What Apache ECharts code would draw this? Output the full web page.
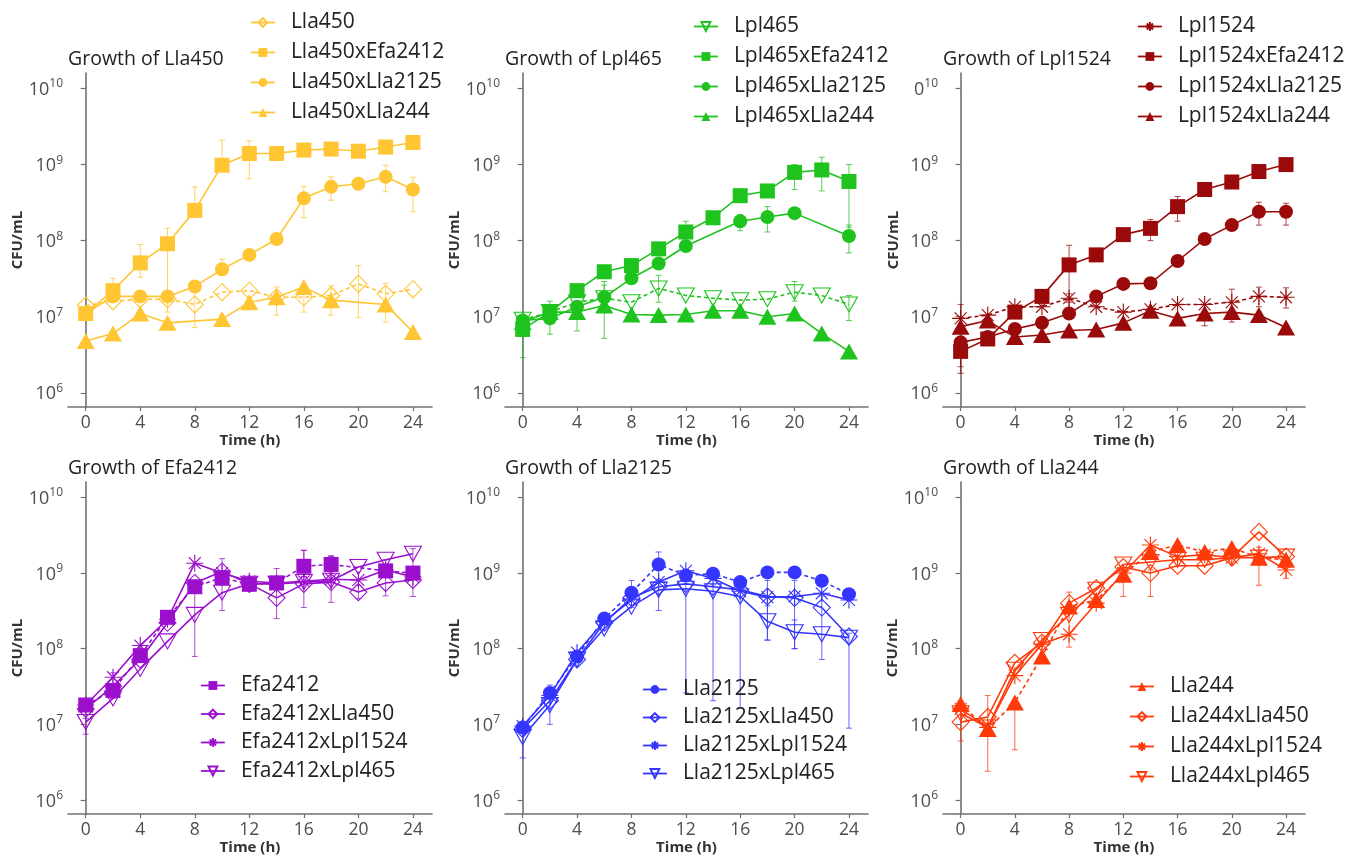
<!DOCTYPE html>
<html><head><meta charset="utf-8">
<script src="https://cdn.jsdelivr.net/npm/echarts@6/dist/echarts.min.js"></script>
<style>html,body{margin:0;padding:0;background:#fff}#c{width:1347px;height:856px}</style>
</head><body><div id="c"></div>
<script>
const hours = [0,2,4,6,8,10,12,14,16,18,20,22,24];
const xTicks = [0,4,8,12,16,20,24];
const yTicks = [1e6,1e7,1e8,1e9,1e10];
const yTickExp = ['6','7','8','9','10'];
const titles = ['Growth of Lla450','Growth of Lpl465','Growth of Lpl1524','Growth of Efa2412','Growth of Lla2125','Growth of Lla244'];

// ---- Growth of Lla450 (CFU/mL) ----
const Lla450         = [1.4e7,1.6e7,1.7e7,1.7e7,1.45e7,2.1e7,2.2e7,1.8e7,1.8e7,1.9e7,2.7e7,2.0e7,2.3e7];
const Lla450xEfa2412 = [1.1e7,2.2e7,5.1e7,9.1e7,2.5e8,9.8e8,1.4e9,1.4e9,1.55e9,1.6e9,1.5e9,1.7e9,1.95e9];
const Lla450xLla2125 = [1.1e7,1.85e7,1.85e7,1.85e7,2.5e7,4.2e7,6.5e7,1.05e8,3.6e8,5.1e8,5.6e8,6.9e8,4.7e8];
const Lla450xLla244  = [4.8e6,6.0e6,1.1e7,8.3e6,null,9.3e6,1.55e7,1.8e7,2.45e7,1.65e7,null,1.45e7,6.3e6];
// ---- Growth of Lpl465 ----
const Lpl465         = [9.1e6,1.15e7,1.55e7,1.75e7,1.55e7,2.35e7,1.9e7,1.75e7,1.65e7,1.7e7,2.1e7,1.9e7,1.45e7];
const Lpl465xEfa2412 = [6.8e6,1.15e7,2.2e7,3.9e7,4.7e7,7.8e7,1.3e8,2.0e8,3.9e8,4.5e8,7.9e8,8.5e8,6.0e8];
const Lpl465xLla2125 = [8.9e6,9.5e6,1.35e7,1.8e7,3.2e7,5.0e7,8.5e7,null,1.8e8,2.05e8,2.3e8,null,1.15e8];
const Lpl465xLla244  = [8.5e6,1.15e7,1.15e7,1.4e7,1.07e7,1.05e7,1.07e7,1.2e7,1.2e7,1.0e7,1.1e7,6.0e6,3.5e6];
// ---- Growth of Lpl1524 ----
const Lpl1524         = [9.5e6,1.05e7,1.35e7,1.35e7,1.75e7,1.35e7,1.15e7,1.25e7,1.45e7,1.45e7,1.55e7,1.85e7,1.8e7];
const Lpl1524xEfa2412 = [3.5e6,5.1e6,1.15e7,1.85e7,4.8e7,6.5e7,1.2e8,1.45e8,2.8e8,4.7e8,5.9e8,8.1e8,1.0e9];
const Lpl1524xLla2125 = [4.6e6,5.4e6,6.9e6,8.3e6,1.1e7,1.85e7,2.7e7,2.75e7,5.4e7,1.05e8,1.6e8,2.4e8,2.4e8];
const Lpl1524xLla244  = [7.4e6,8.9e6,5.4e6,5.75e6,6.6e6,6.8e6,8.3e6,1.2e7,9.5e6,1.1e7,1.15e7,1.05e7,7.2e6];
// ---- Growth of Efa2412 ----
const Efa2412         = [1.8e7,2.8e7,8.1e7,2.6e8,6.6e8,8.7e8,7.1e8,7.4e8,1.23e9,1.3e9,null,1.07e9,1.0e9];
const Efa2412xLla450  = [1.6e7,3.2e7,7.2e7,2.2e8,7.4e8,1.05e9,7.2e8,4.7e8,7.2e8,7.6e8,5.6e8,7.4e8,8.1e8];
const Efa2412xLpl1524 = [1.8e7,4.2e7,1.1e8,2.45e8,1.35e9,1.0e9,7.8e8,7.4e8,7.8e8,8.3e8,8.1e8,1.1e9,8.9e8];
const Efa2412xLpl465  = [1.07e7,2.2e7,5.4e7,1.25e8,2.8e8,5.5e8,7.2e8,7.2e8,7.6e8,7.9e8,1.2e9,1.5e9,1.8e9];
// ---- Growth of Lla2125 ----
const Lla2125         = [9.1e6,2.6e7,7.9e7,2.5e8,5.5e8,1.3e9,9.3e8,9.8e8,7.6e8,1.02e9,1.02e9,7.9e8,5.25e8];
const Lla2125xLla450  = [8.7e6,2.05e7,7.2e7,2.2e8,4.7e8,6.6e8,7.2e8,6.6e8,6.0e8,4.9e8,4.7e8,3.5e8,1.45e8];
const Lla2125xLpl1524 = [9.5e6,2.4e7,8.9e7,2.3e8,4.4e8,7.6e8,1.07e9,8.5e8,5.75e8,4.8e8,4.9e8,5.4e8,4.4e8];
const Lla2125xLpl465  = [6.8e6,1.8e7,7.2e7,1.85e8,3.6e8,6.0e8,6.2e8,5.75e8,4.9e8,2.3e8,1.65e8,1.55e8,1.4e8];
// ---- Growth of Lla244 ----
const Lla244         = [1.85e7,8.7e6,1.95e7,7.9e7,3.6e8,4.4e8,9.5e8,1.9e9,2.35e9,1.9e9,2.15e9,1.6e9,1.5e9];
const Lla244xLla450  = [1.07e7,1.25e7,6.5e7,1.2e8,4.0e8,6.3e8,1.2e9,1.0e9,1.25e9,1.25e9,1.6e9,3.5e9,1.65e9];
const Lla244xLpl1524 = [1.6e7,9.1e6,4.4e7,1.15e8,1.55e8,4.0e8,1.0e9,2.35e9,1.65e9,1.75e9,1.6e9,1.8e9,1.1e9];
const Lla244xLpl465  = [1.4e7,9.1e6,5.25e7,1.3e8,2.8e8,6.0e8,1.3e9,1.4e9,1.5e9,1.5e9,1.6e9,1.6e9,1.65e9];

// ---- error bars [time, low, high] ----
const errLla450         = [[8,7.2e6,2.2e7],[16,1.15e7,2.6e7],[20,9.8e6,4.7e7],[22,8.5e6,2.75e7]];
const errLla450xEfa2412 = [[2,1.6e7,3.2e7],[4,3.3e7,8.9e7],[6,1.15e7,1.45e8],[8,2.5e8,5.1e8],[10,9.8e8,2.1e9],[12,6.5e8,2.05e9]];
const errLla450xLla2125 = [[10,3.5e7,5.7e7],[16,2.0e8,5.2e8],[18,3.4e8,6.9e8],[22,4.4e8,9.8e8],[24,2.4e8,6.8e8]];
const errLla450xLla244  = [[14,1.05e7,2.45e7],[18,1.05e7,2.55e7]];
const errLpl465         = [[6,1.2e7,2.6e7],[10,1.55e7,3.5e7],[20,1.6e7,2.9e7],[24,8.9e6,1.9e7]];
const errLpl465xEfa2412 = [[0,2.9e6,1.0e7],[12,1.0e8,1.8e8],[20,4.7e8,1.0e9],[22,4.5e8,1.25e9],[24,1.5e8,1.0e9]];
const errLpl465xLla2125 = [[2,5.9e6,1.6e7],[16,1.35e8,2.2e8],[18,1.3e8,2.8e8],[24,6.9e7,1.6e8]];
const errLpl465xLla244  = [[4,6.5e6,1.6e7],[6,5.2e6,2.9e7]];
const errLpl1524         = [[0,9.5e6,1.45e7],[8,1.2e7,2.0e7],[20,1.1e7,2.3e7],[22,1.35e7,2.45e7],[24,1.3e7,2.4e7]];
const errLpl1524xEfa2412 = [[0,1.8e6,4.6e6],[8,1.55e7,8.7e7],[14,1.0e8,1.9e8],[16,1.8e8,3.8e8]];
const errLpl1524xLla2125 = [[0,2.2e6,4.6e6],[22,1.6e8,3.2e8],[24,1.6e8,3.1e8]];
const errLpl1524xLla244  = [[18,7.6e6,1.1e7],[20,8.5e6,1.15e7]];
const errEfa2412         = [[16,9.0e8,2.0e9],[18,1.0e9,1.7e9]];
const errEfa2412xLla450  = [[10,3.2e8,1.55e9],[14,2.5e8,1.15e9],[18,4.1e8,1.65e9],[20,4.6e8,6.9e8]];
const errEfa2412xLpl1524 = [[2,2.2e7,4.8e7],[22,5.0e8,1.5e9]];
const errEfa2412xLpl465  = [[0,7.4e6,1.2e7],[8,7.9e7,6.0e8],[16,3.5e8,2.0e9],[24,4.9e8,2.1e9]];
const errLla2125         = [[2,1.0e7,3.3e7],[8,3.5e8,8.0e8],[10,3.2e8,1.9e9]];
const errLla2125xLla450  = [[22,7.2e7,5.0e8]];
const errLla2125xLpl1524 = [[18,1.3e8,8.0e8],[20,1.0e8,8.0e8]];
const errLla2125xLpl465  = [[0,3.6e6,1.0e7],[12,2.6e7,8.0e8],[14,2.05e7,7.0e8],[16,1.65e7,6.0e8],[18,1.3e8,3.7e8],[20,1.0e8,2.4e8],[24,8.9e6,1.6e8]];
const errLla244          = [[2,2.4e6,2.4e7],[4,4.6e6,2.0e7]];
const errLla244xLla450   = [[0,6.0e6,1.5e7],[14,4.9e8,1.1e9]];
const errLla244xLpl1524  = [[8,1.05e8,5.6e8],[24,8.5e8,1.4e9]];
const errLla244xLpl465   = [[12,4.9e8,1.0e9],[22,6.9e8,2.2e9]];

// ---- styling / layout ----
const FONT = 'Open Sans';
const colors = ['#FFC533','#1EC31E','#9B0A0A','#9A10CC','#3535FF','#FF3A0A'];
const SYM = {
  sq:  {symbol:'rect', size:15, open:false},
  ci:  {symbol:'circle', size:14, open:false},
  tr:  {symbol:'triangle', size:[18,16], open:false},
  di:  {symbol:'diamond', size:17, open:true},
  dt:  {symbol:'path://M0,0L20,0L10,17Z', size:[17,15], open:true},
  as:  {symbol:'path://M10,0L10,20M0,10L20,10M3,3L17,17M3,17L17,3', size:17, open:true}
};
const panels = [
  {s:[['Lla450',Lla450,'di',errLla450],['Lla450xEfa2412',Lla450xEfa2412,'sq',errLla450xEfa2412],['Lla450xLla2125',Lla450xLla2125,'ci',errLla450xLla2125],['Lla450xLla244',Lla450xLla244,'tr',errLla450xLla244]]},
  {s:[['Lpl465',Lpl465,'dt',errLpl465],['Lpl465xEfa2412',Lpl465xEfa2412,'sq',errLpl465xEfa2412],['Lpl465xLla2125',Lpl465xLla2125,'ci',errLpl465xLla2125],['Lpl465xLla244',Lpl465xLla244,'tr',errLpl465xLla244]]},
  {s:[['Lpl1524',Lpl1524,'as',errLpl1524],['Lpl1524xEfa2412',Lpl1524xEfa2412,'sq',errLpl1524xEfa2412],['Lpl1524xLla2125',Lpl1524xLla2125,'ci',errLpl1524xLla2125],['Lpl1524xLla244',Lpl1524xLla244,'tr',errLpl1524xLla244]]},
  {s:[['Efa2412',Efa2412,'sq',errEfa2412],['Efa2412xLla450',Efa2412xLla450,'di',errEfa2412xLla450],['Efa2412xLpl1524',Efa2412xLpl1524,'as',errEfa2412xLpl1524],['Efa2412xLpl465',Efa2412xLpl465,'dt',errEfa2412xLpl465]]},
  {s:[['Lla2125',Lla2125,'ci',errLla2125],['Lla2125xLla450',Lla2125xLla450,'di',errLla2125xLla450],['Lla2125xLpl1524',Lla2125xLpl1524,'as',errLla2125xLpl1524],['Lla2125xLpl465',Lla2125xLpl465,'dt',errLla2125xLpl465]]},
  {s:[['Lla244',Lla244,'tr',errLla244],['Lla244xLla450',Lla244xLla450,'di',errLla244xLla450],['Lla244xLpl1524',Lla244xLpl1524,'as',errLla244xLpl1524],['Lla244xLpl465',Lla244xLpl465,'dt',errLla244xLpl465]]}
];
const gridLeft = [68,505,943,68,505,943];
const gridWidth = [364,363,362,364,363,362];
const gridTop = [73,73,73,482,482,482];
const gridHeight = [334,334,334,335,335,335];
const titleTop = [49,49,49,458,458,458];
const legendPos = [[250,12,9],[693,16,9],[1137,16,9],[200,675,7.5],[642,679,7],[1129,676,9]];

const option = {animation:false, backgroundColor:'#fff', title:[], grid:[], xAxis:[], yAxis:[], legend:[], series:[]};

panels.forEach((p,i)=>{
  const col = colors[i];
  option.title.push({text:titles[i], left:gridLeft[i], top:titleTop[i], padding:0,
    textStyle:{fontFamily:FONT, fontSize:19.5, fontWeight:'normal', color:'#222'}});
  option.grid.push({left:gridLeft[i], top:gridTop[i], width:gridWidth[i], height:gridHeight[i], containLabel:false});
  option.xAxis.push({type:'value', gridIndex:i, min:-1.3, max:25.4,
    name:'Time (h)', nameLocation:'middle', nameGap:24,
    nameTextStyle:{fontFamily:FONT, fontSize:15, fontWeight:'bold', color:'#333'},
    axisLine:{show:true, onZero:false, lineStyle:{color:'#707070', width:1.6}},
    axisTick:{show:true, length:4, customValues:xTicks, lineStyle:{color:'#707070', width:1.2}},
    axisLabel:{customValues:xTicks, fontFamily:FONT, fontSize:17.5, margin:7, color:'#4d4d4d'},
    splitLine:{show:false}});
  option.yAxis.push({type:'log', logBase:10, gridIndex:i, min:6.5e5, max:1.6e10,
    name:'CFU/mL', nameLocation:'middle', nameGap:42, nameRotate:90,
    nameTextStyle:{fontFamily:FONT, fontSize:15, fontWeight:'bold', color:'#333'},
    axisLine:{show:true, lineStyle:{color:'#707070', width:1.6}},
    axisTick:{show:true, length:5, customValues:yTicks, lineStyle:{color:'#707070', width:1.2}},
    axisLabel:{customValues:yTicks, margin:5, fontFamily:FONT, fontSize:18, color:'#4d4d4d',
      formatter:(v)=>{
        let k = yTicks.findIndex(t=>Math.abs(Math.log10(t)-Math.log10(v))<1e-6);
        if(k<0) return '';
        const base = (i===2 && k===4) ? '0' : '10';
        return '{b|'+base+'}{s|'+yTickExp[k]+'}';
      },
      rich:{b:{fontFamily:FONT, fontSize:18, lineHeight:21, verticalAlign:'bottom', color:'#4d4d4d'},
            s:{fontFamily:FONT, fontSize:12, lineHeight:12, verticalAlign:'top', color:'#4d4d4d'}}},
    splitLine:{show:false}});
  const lp = legendPos[i];
  option.legend.push({orient:'vertical', left:lp[0], top:lp[1], padding:0, itemGap:lp[2],
    itemWidth:24, itemHeight:11, selectedMode:false,
    data:p.s.map(s=>s[0]),
    lineStyle:{type:'solid', width:1.8},
    textStyle:{fontFamily:FONT, fontSize:21, lineHeight:21, color:'#222', padding:[0,0,0,11]}});
  const errData = [];
  p.s.forEach(s=>s[3].forEach(e=>errData.push(e)));
  option.series.push({type:'custom', xAxisIndex:i, yAxisIndex:i, z:1, silent:true,
    encode:{x:0, y:[1,2]}, data:errData,
    renderItem:(params, api)=>{
      const x = api.value(0);
      const a = api.coord([x, api.value(1)]);
      const b = api.coord([x, api.value(2)]);
      const w = 3;
      const st = {stroke:col, lineWidth:1, opacity:0.75};
      return {type:'group', children:[
        {type:'line', shape:{x1:a[0],y1:a[1],x2:b[0],y2:b[1]}, style:st},
        {type:'line', shape:{x1:a[0]-w,y1:a[1],x2:a[0]+w,y2:a[1]}, style:st},
        {type:'line', shape:{x1:b[0]-w,y1:b[1],x2:b[0]+w,y2:b[1]}, style:st}
      ]};
    }});
  p.s.forEach((s,j)=>{
    const sym = SYM[s[2]];
    option.series.push({type:'line', name:s[0], xAxisIndex:i, yAxisIndex:i, z:2+j,
      data:hours.map((t,k)=>[t, s[1][k]]),
      connectNulls:true,
      symbol:sym.symbol, symbolSize:sym.size, showSymbol:true, showAllSymbol:true,
      itemStyle: sym.open ? {color:'rgba(0,0,0,0)', borderColor:col, borderWidth:1.1} : {color:col, borderWidth:0},
      lineStyle:{color:col, width:1.6, type: j===0 ? [4,3] : 'solid'},
      emphasis:{disabled:true}});
  });
});

const chart = echarts.init(document.getElementById('c'), null, {renderer:'canvas'});
chart.setOption(option);
</script>
</body></html>
